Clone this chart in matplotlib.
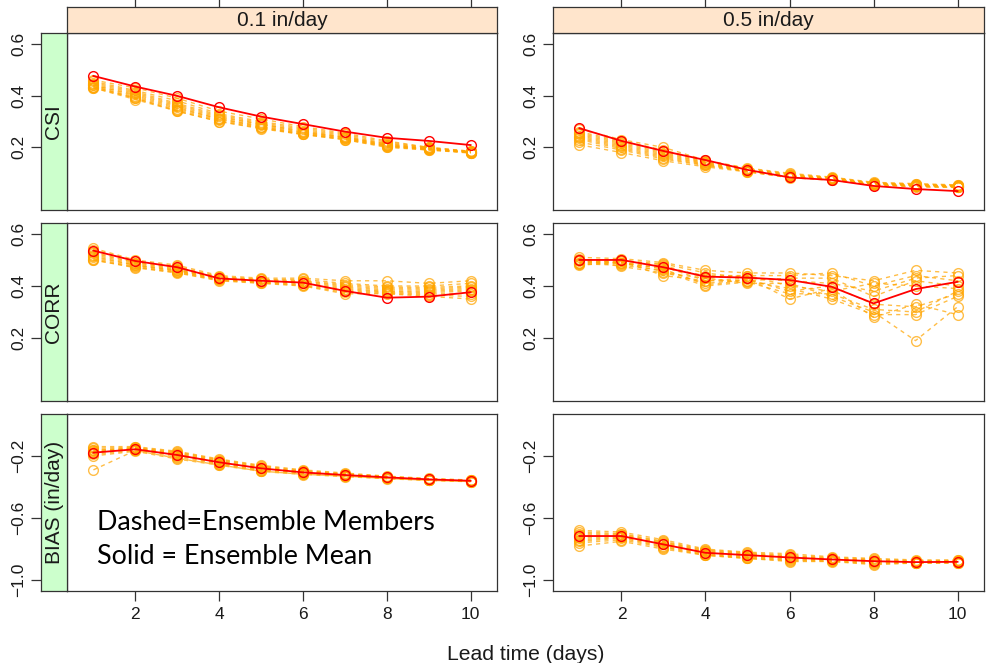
import matplotlib
matplotlib.use('Agg')
import matplotlib.pyplot as plt

plt.rcParams['font.family'] = ['Liberation Sans', 'DejaVu Sans']

W, H = 990, 663

lead = [1, 2, 3, 4, 5, 6, 7, 8, 9, 10]
thresholds = ['0.1 in/day', '0.5 in/day']
metrics = ['CSI', 'CORR', 'BIAS (in/day)']
xticks = [2, 4, 6, 8, 10]
yticks_skill = [0.2, 0.4, 0.6]
yticks_bias = [-1.0, -0.6, -0.2]
ylim_skill = (0.0, 0.6)
ylim_bias = (-1.0, 0.0)
legend_lines = ['Dashed=Ensemble Members', 'Solid = Ensemble Mean']

# ---------------- CSI ----------------
csi_01_mean = [0.476, 0.435, 0.399, 0.355, 0.319, 0.290, 0.261, 0.237, 0.225, 0.209]
csi_01_members = [
    [0.460, 0.430, 0.390, 0.340, 0.310, 0.280, 0.255, 0.225, 0.200, 0.185],
    [0.455, 0.420, 0.380, 0.330, 0.300, 0.275, 0.250, 0.220, 0.200, 0.185],
    [0.450, 0.415, 0.370, 0.325, 0.295, 0.270, 0.245, 0.215, 0.198, 0.183],
    [0.445, 0.410, 0.365, 0.320, 0.290, 0.265, 0.240, 0.213, 0.196, 0.182],
    [0.440, 0.405, 0.360, 0.315, 0.290, 0.260, 0.240, 0.210, 0.195, 0.182],
    [0.440, 0.400, 0.355, 0.310, 0.285, 0.258, 0.237, 0.208, 0.194, 0.181],
    [0.435, 0.395, 0.350, 0.310, 0.280, 0.255, 0.235, 0.206, 0.193, 0.180],
    [0.435, 0.390, 0.345, 0.305, 0.278, 0.252, 0.233, 0.205, 0.192, 0.180],
    [0.430, 0.390, 0.340, 0.300, 0.275, 0.250, 0.230, 0.203, 0.190, 0.180],
    [0.430, 0.385, 0.340, 0.300, 0.272, 0.250, 0.230, 0.200, 0.190, 0.178],
]
csi_05_mean = [0.274, 0.225, 0.186, 0.151, 0.113, 0.084, 0.074, 0.051, 0.039, 0.031]
csi_05_members = [
    [0.270, 0.230, 0.200, 0.150, 0.120, 0.100, 0.085, 0.065, 0.060, 0.055],
    [0.260, 0.225, 0.190, 0.148, 0.118, 0.097, 0.083, 0.063, 0.058, 0.053],
    [0.255, 0.220, 0.185, 0.145, 0.116, 0.095, 0.082, 0.062, 0.056, 0.052],
    [0.250, 0.215, 0.180, 0.142, 0.114, 0.093, 0.080, 0.060, 0.055, 0.050],
    [0.245, 0.210, 0.175, 0.140, 0.112, 0.091, 0.079, 0.060, 0.054, 0.050],
    [0.240, 0.205, 0.170, 0.137, 0.110, 0.090, 0.078, 0.059, 0.053, 0.049],
    [0.235, 0.200, 0.165, 0.135, 0.108, 0.088, 0.077, 0.058, 0.052, 0.048],
    [0.230, 0.195, 0.160, 0.132, 0.107, 0.086, 0.076, 0.057, 0.050, 0.047],
    [0.220, 0.190, 0.155, 0.130, 0.106, 0.085, 0.075, 0.056, 0.049, 0.046],
    [0.210, 0.180, 0.148, 0.125, 0.105, 0.083, 0.073, 0.055, 0.047, 0.045],
]

# ---------------- CORR ----------------
corr_01_mean = [0.536, 0.496, 0.472, 0.429, 0.420, 0.413, 0.381, 0.355, 0.359, 0.376]
corr_01_members = [
    [0.545, 0.500, 0.480, 0.440, 0.430, 0.430, 0.420, 0.420, 0.410, 0.420],
    [0.540, 0.495, 0.475, 0.435, 0.425, 0.425, 0.410, 0.400, 0.400, 0.410],
    [0.530, 0.490, 0.470, 0.435, 0.425, 0.420, 0.405, 0.395, 0.395, 0.400],
    [0.525, 0.490, 0.465, 0.430, 0.420, 0.418, 0.400, 0.390, 0.390, 0.395],
    [0.520, 0.485, 0.462, 0.430, 0.420, 0.415, 0.395, 0.385, 0.385, 0.390],
    [0.515, 0.480, 0.460, 0.428, 0.418, 0.412, 0.390, 0.380, 0.380, 0.385],
    [0.510, 0.480, 0.458, 0.425, 0.415, 0.410, 0.385, 0.378, 0.375, 0.380],
    [0.505, 0.475, 0.455, 0.425, 0.415, 0.405, 0.380, 0.375, 0.370, 0.370],
    [0.500, 0.472, 0.452, 0.422, 0.412, 0.402, 0.375, 0.372, 0.365, 0.360],
    [0.500, 0.470, 0.450, 0.420, 0.410, 0.400, 0.370, 0.370, 0.360, 0.350],
]
corr_05_mean = [0.500, 0.500, 0.472, 0.436, 0.432, 0.423, 0.397, 0.333, 0.388, 0.416]
corr_05_members = [
    [0.510, 0.505, 0.490, 0.460, 0.450, 0.450, 0.440, 0.420, 0.460, 0.450],
    [0.500, 0.500, 0.480, 0.430, 0.440, 0.440, 0.450, 0.400, 0.440, 0.420],
    [0.495, 0.495, 0.485, 0.450, 0.430, 0.420, 0.410, 0.380, 0.430, 0.440],
    [0.490, 0.490, 0.475, 0.420, 0.420, 0.430, 0.430, 0.360, 0.420, 0.400],
    [0.505, 0.485, 0.470, 0.440, 0.440, 0.400, 0.380, 0.410, 0.400, 0.390],
    [0.485, 0.480, 0.460, 0.410, 0.425, 0.380, 0.400, 0.330, 0.320, 0.370],
    [0.480, 0.490, 0.455, 0.400, 0.415, 0.370, 0.370, 0.310, 0.300, 0.380],
    [0.500, 0.475, 0.450, 0.430, 0.410, 0.410, 0.360, 0.300, 0.190, 0.320],
    [0.490, 0.495, 0.440, 0.420, 0.430, 0.350, 0.390, 0.280, 0.330, 0.290],
    [0.485, 0.490, 0.465, 0.405, 0.420, 0.390, 0.350, 0.290, 0.290, 0.360],
]

# ---------------- BIAS ----------------
bias_01_mean = [-0.179, -0.157, -0.194, -0.241, -0.280, -0.306, -0.323, -0.338, -0.351, -0.360]
bias_01_members = [
    [-0.140, -0.140, -0.170, -0.220, -0.260, -0.290, -0.310, -0.330, -0.345, -0.355],
    [-0.150, -0.145, -0.175, -0.225, -0.265, -0.295, -0.315, -0.333, -0.348, -0.357],
    [-0.160, -0.150, -0.180, -0.230, -0.270, -0.300, -0.318, -0.335, -0.350, -0.358],
    [-0.165, -0.150, -0.185, -0.235, -0.275, -0.302, -0.320, -0.337, -0.350, -0.360],
    [-0.170, -0.155, -0.190, -0.240, -0.280, -0.305, -0.322, -0.338, -0.352, -0.360],
    [-0.175, -0.155, -0.195, -0.245, -0.285, -0.308, -0.325, -0.340, -0.353, -0.362],
    [-0.180, -0.160, -0.200, -0.250, -0.290, -0.310, -0.327, -0.342, -0.355, -0.363],
    [-0.190, -0.165, -0.210, -0.255, -0.295, -0.315, -0.330, -0.345, -0.357, -0.365],
    [-0.200, -0.170, -0.220, -0.260, -0.300, -0.320, -0.333, -0.347, -0.358, -0.366],
    [-0.290, -0.165, -0.215, -0.258, -0.298, -0.318, -0.330, -0.345, -0.357, -0.365],
]
bias_05_mean = [-0.716, -0.716, -0.770, -0.824, -0.839, -0.854, -0.867, -0.878, -0.884, -0.882]
bias_05_members = [
    [-0.680, -0.690, -0.740, -0.800, -0.820, -0.830, -0.850, -0.860, -0.870, -0.870],
    [-0.690, -0.700, -0.750, -0.805, -0.825, -0.840, -0.855, -0.865, -0.875, -0.873],
    [-0.700, -0.705, -0.755, -0.810, -0.830, -0.845, -0.860, -0.870, -0.878, -0.876],
    [-0.710, -0.710, -0.760, -0.815, -0.835, -0.850, -0.862, -0.875, -0.880, -0.878],
    [-0.720, -0.715, -0.765, -0.820, -0.840, -0.855, -0.865, -0.878, -0.882, -0.880],
    [-0.730, -0.720, -0.770, -0.825, -0.845, -0.860, -0.868, -0.880, -0.885, -0.882],
    [-0.740, -0.725, -0.780, -0.830, -0.850, -0.865, -0.870, -0.885, -0.887, -0.885],
    [-0.750, -0.730, -0.785, -0.835, -0.855, -0.870, -0.875, -0.890, -0.889, -0.887],
    [-0.760, -0.740, -0.790, -0.840, -0.860, -0.875, -0.878, -0.895, -0.890, -0.890],
    [-0.780, -0.750, -0.800, -0.840, -0.860, -0.880, -0.880, -0.900, -0.890, -0.890],
]

means = [[csi_01_mean, csi_05_mean], [corr_01_mean, corr_05_mean], [bias_01_mean, bias_05_mean]]
members = [[csi_01_members, csi_05_members], [corr_01_members, corr_05_members],
           [bias_01_members, bias_05_members]]
row_ylims = [ylim_skill, ylim_skill, ylim_bias]
row_yticks = [yticks_skill, yticks_skill, yticks_bias]

# ---------------- layout (pixels) ----------------
col_x = [(67, 497), (553, 984)]
row_y = [(33, 210), (223, 401), (414, 591)]
strip_top = (7, 33)
strip_left = (41, 67)

EDGE = '#333333'
TXT = '#1a1a1a'
STRIP_TOP_BG = '#ffe5cc'
STRIP_LEFT_BG = '#ccffcc'
ORANGE = '#FFA500'
RED = '#FF0000'
TICK_LEN = 7.0
TICK_FS = 12.5
STRIP_FS = 15


def rect(x0, y0, x1, y1):
    return [x0 / W, 1 - y1 / H, (x1 - x0) / W, (y1 - y0) / H]


def pad_lim(lo, hi, frac=0.07):
    d = (hi - lo) * frac
    return lo - d, hi + d


def fmt(v):
    return '%.1f' % v if v >= 0 else '\u2212%.1f' % abs(v)


xlim = pad_lim(min(lead), max(lead))

fig = plt.figure(figsize=(W / 100, H / 100), dpi=100)


def style_spines(ax):
    for s in ax.spines.values():
        s.set_color(EDGE)
        s.set_linewidth(0.9)


for r in range(3):
    ylim = pad_lim(*row_ylims[r])
    for c in range(2):
        x0, x1 = col_x[c]
        y0, y1 = row_y[r]
        ax = fig.add_axes(rect(x0, y0, x1, y1))
        ax.set_xlim(*xlim)
        ax.set_ylim(*ylim)
        style_spines(ax)
        for m in members[r][c]:
            ax.plot(lead, m, linestyle=(0, (3, 3)), color=ORANGE, alpha=0.72, lw=1.0,
                    marker='o', ms=7, mfc='none', mec=ORANGE, mew=1.0, zorder=2)
        ax.plot(lead, means[r][c], '-', color=RED, lw=1.3, marker='o', ms=7,
                mfc='none', mec=RED, mew=1.0, zorder=3)

        # x ticks
        ax.set_xticks(xticks)
        if r == 2:
            ax.tick_params(axis='x', bottom=True, labelbottom=True, direction='out',
                           length=TICK_LEN, width=0.9, color=EDGE, labelsize=TICK_FS,
                           labelcolor=TXT, pad=4.5)
        else:
            ax.tick_params(axis='x', bottom=False, labelbottom=False)

        # y ticks
        if c == 1:
            ax.set_yticks(row_yticks[r])
            ax.set_yticklabels([fmt(v) for v in row_yticks[r]], rotation=90, va='center')
            ax.tick_params(axis='y', left=True, labelleft=True, direction='out',
                           length=TICK_LEN, width=0.9, color=EDGE, labelsize=TICK_FS,
                           labelcolor=TXT, pad=3.5)
        else:
            ax.set_yticks([])
            # green strip with row label and y axis
            sg = fig.add_axes(rect(strip_left[0], y0, strip_left[1], y1))
            sg.set_facecolor(STRIP_LEFT_BG)
            sg.set_xlim(0, 1)
            sg.set_ylim(*ylim)
            style_spines(sg)
            sg.set_xticks([])
            sg.set_yticks(row_yticks[r])
            sg.set_yticklabels([fmt(v) for v in row_yticks[r]], rotation=90, va='center')
            sg.tick_params(axis='y', left=True, labelleft=True, direction='out',
                           length=TICK_LEN, width=0.9, color=EDGE, labelsize=TICK_FS,
                           labelcolor=TXT, pad=3.5)
            sg.text(0.5, sum(ylim) / 2, metrics[r], rotation=90, ha='center', va='center',
                    fontsize=STRIP_FS, color=TXT)

        if r == 0:
            st = fig.add_axes(rect(x0, strip_top[0], x1, strip_top[1]))
            st.set_facecolor(STRIP_TOP_BG)
            st.set_xlim(*xlim)
            st.set_ylim(0, 1)
            style_spines(st)
            st.set_yticks([])
            st.set_xticks(xticks)
            st.tick_params(axis='x', top=True, bottom=False, labeltop=False,
                           labelbottom=False, direction='out', length=TICK_LEN,
                           width=0.9, color=EDGE)
            st.text(sum(xlim) / 2, 0.47, thresholds[c], ha='center', va='center',
                    fontsize=STRIP_FS, color=TXT)

        if r == 2 and c == 0:
            ax.text(97 / W, 1 - 523 / H, legend_lines[0], transform=fig.transFigure,
                    ha='left', va='center', fontsize=19.4, family=['Lato', 'DejaVu Sans'],
                    color='black')
            ax.text(97 / W, 1 - 557 / H, legend_lines[1], transform=fig.transFigure,
                    ha='left', va='center', fontsize=19.4, family=['Lato', 'DejaVu Sans'],
                    color='black')

fig.text((67 + 984) / 2 / W, 1 - 654 / H, 'Lead time (days)', ha='center', va='center',
         fontsize=15.2, color=TXT)

fig.savefig('out.png', dpi=100)
